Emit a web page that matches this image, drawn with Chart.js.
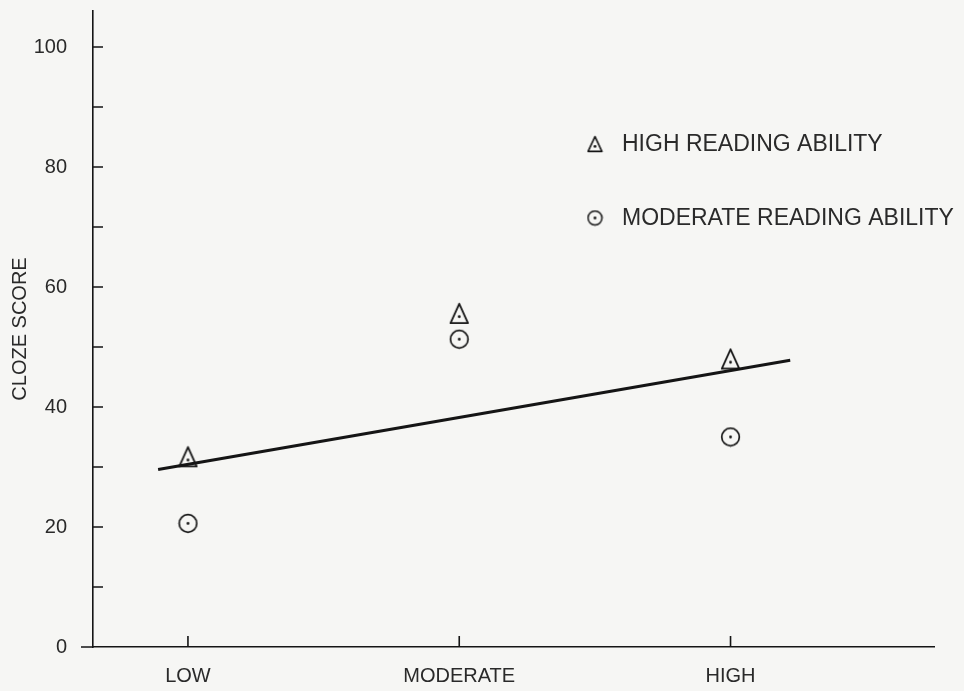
<!DOCTYPE html>
<html>
<head>
<meta charset="utf-8">
<script src="https://cdn.jsdelivr.net/npm/chart.js@4.4.0/dist/chart.umd.min.js"></script>
<style>
  body { margin: 0; background: #f6f6f4; }
  canvas { display: block; }
</style>
</head>
<body>
<canvas id="cloze" width="964" height="691"></canvas>
<script>
// values
const levels = ['LOW', 'MODERATE', 'HIGH'];
const highAbility = [31.7, 55.6, 48.0];
const moderateAbility = [20.6, 51.3, 35.0];
const fitX = [-0.11, 2.22];
const fitY = [29.6, 47.8];
const yTicks = [0, 20, 40, 60, 80, 100];
const legendLabels = ['HIGH READING ABILITY', 'MODERATE READING ABILITY'];

const ink = '#151515';
const textColor = '#2a2a2a';
const fontFamily = '"Liberation Sans", Arial, sans-serif';

// marker images: outlined shape with a dot inside
function makeMarker(shape, w, h, lw) {
    const c = document.createElement('canvas');
    c.width = w; c.height = h;
    const g = c.getContext('2d');
    g.strokeStyle = ink;
    g.fillStyle = ink;
    g.lineWidth = lw;
    g.lineJoin = 'round';
    g.beginPath();
    let dotY = h / 2;
    if (shape === 'triangle') {
        g.moveTo(w / 2, lw);
        g.lineTo(w - lw, h - lw);
        g.lineTo(lw, h - lw);
        g.closePath();
        dotY = (lw + 2 * (h - lw)) / 3;
    } else {
        g.arc(w / 2, h / 2, w / 2 - lw, 0, Math.PI * 2);
    }
    g.stroke();
    g.beginPath();
    g.arc(w / 2, dotY, 1.4, 0, Math.PI * 2);
    g.fill();
    return c;
}

const triBig = makeMarker('triangle', 21, 23, 1.8);
const circBig = makeMarker('circle', 21, 21, 1.7);
const triSmall = makeMarker('triangle', 17, 18, 1.6);
const circSmall = makeMarker('circle', 17, 17, 1.5);

const toPoints = arr => arr.map((v, i) => ({ x: i, y: v }));

const axisMarks = {
    id: 'axisMarks',
    afterDraw(chart) {
        const { ctx, scales: { x, y }, chartArea } = chart;
        ctx.save();
        ctx.strokeStyle = ink;
        ctx.lineWidth = 1.6;
        ctx.beginPath();
        for (let v = 10; v <= 100; v += 10) {
            const py = y.getPixelForValue(v);
            ctx.moveTo(chartArea.left, py);
            ctx.lineTo(chartArea.left + 10, py);
        }
        const p0 = y.getPixelForValue(0);
        ctx.moveTo(chartArea.left - 12, p0);
        ctx.lineTo(chartArea.left, p0);
        levels.forEach((_, i) => {
            const px = x.getPixelForValue(i);
            ctx.moveTo(px, chartArea.bottom);
            ctx.lineTo(px, chartArea.bottom - 11);
        });
        ctx.stroke();

        // legend, top right inside the plot
        const lx = chartArea.left + 502;
        const ly = [chartArea.top + 133, chartArea.top + 207];
        const icons = [triSmall, circSmall];
        ctx.fillStyle = textColor;
        ctx.font = '23px ' + fontFamily;
        ctx.textBaseline = 'middle';
        ctx.textAlign = 'left';
        legendLabels.forEach((t, i) => {
            const ic = icons[i];
            ctx.drawImage(ic, lx - ic.width / 2, ly[i] - ic.height / 2);
            ctx.fillText(t, lx + 27, ly[i] + 1);
        });
        ctx.restore();
    }
};

new Chart(document.getElementById('cloze'), {
    type: 'scatter',
    data: {
        datasets: [
            {
                label: legendLabels[0],
                data: toPoints(highAbility),
                pointStyle: triBig,
                pointRadius: 10
            },
            {
                label: legendLabels[1],
                data: toPoints(moderateAbility),
                pointStyle: circBig,
                pointRadius: 10
            },
            {
                label: 'fit',
                data: fitX.map((v, i) => ({ x: v, y: fitY[i] })),
                showLine: true,
                borderColor: ink,
                borderWidth: 3,
                pointRadius: 0
            }
        ]
    },
    options: {
        responsive: false,
        animation: false,
        layout: { padding: { top: 10, right: 30, left: 0, bottom: 0 } },
        plugins: {
            legend: { display: false },
            tooltip: { enabled: false }
        },
        scales: {
            x: {
                type: 'linear',
                position: 'bottom',
                min: -0.35,
                max: 2.75,
                grid: { display: false },
                border: { display: true, color: ink, width: 1.6 },
                afterBuildTicks: s => { s.ticks = levels.map((_, i) => ({ value: i })); },
                afterFit: s => {
                    s.height = 44;
                    s.paddingLeft = 0;
                    s.paddingRight = 0;
                },
                ticks: {
                    autoSkip: false,
                    maxRotation: 0,
                    padding: 9,
                    color: textColor,
                    font: { family: fontFamily, size: 20 },
                    callback: v => levels[Math.round(v)]
                }
            },
            y: {
                type: 'linear',
                min: 0,
                max: 106,
                grid: { display: false },
                border: { display: true, color: ink, width: 1.6 },
                afterBuildTicks: s => { s.ticks = yTicks.map(v => ({ value: v })); },
                afterFit: s => {
                    s.width = 93;
                    s.paddingTop = 0;
                    s.paddingBottom = 0;
                },
                ticks: {
                    padding: 18,
                    color: textColor,
                    font: { family: fontFamily, size: 20 }
                },
                title: {
                    display: true,
                    text: 'CLOZE SCORE',
                    color: textColor,
                    font: { family: fontFamily, size: 20 },
                    padding: { top: 8, bottom: 0 }
                }
            }
        }
    },
    plugins: [axisMarks]
});
</script>
</body>
</html>
